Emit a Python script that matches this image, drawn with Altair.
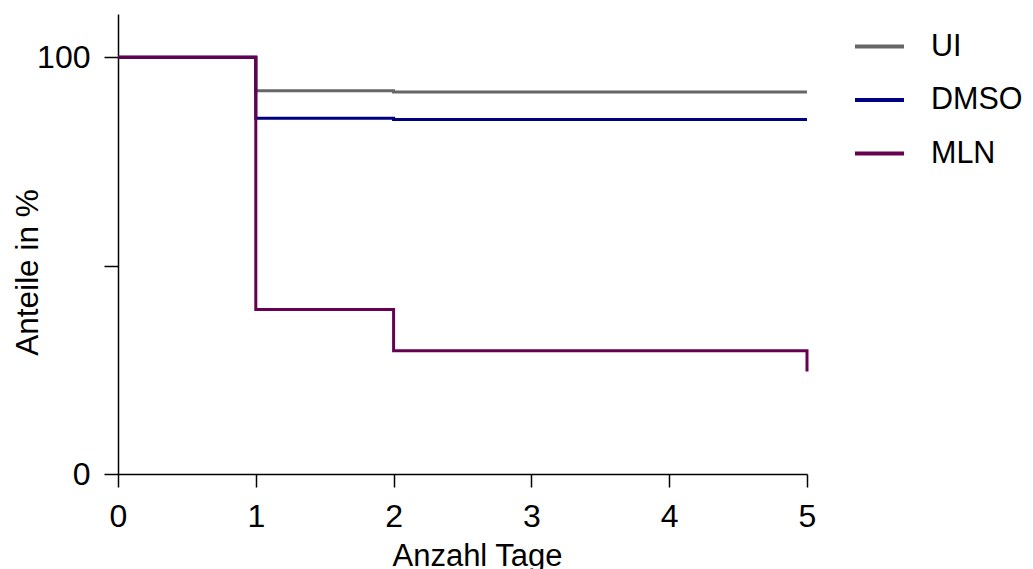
import altair as alt
import pandas as pd

groups = ["UI", "DMSO", "MLN"]
colors = ["#666666", "#000080", "#660050"]

ui_days = [0, 1, 2, 5]
ui_vals = [100, 92.0, 91.7, 91.7]
dmso_days = [0, 1, 2, 5]
dmso_vals = [100, 85.4, 85.1, 85.1]
mln_days = [0, 1, 2, 5, 5]
mln_vals = [100, 39.5, 29.6, 29.6, 24.6]

x_ticks = [0, 1, 2, 3, 4, 5]
y_ticks = [0, 50, 100]

rows = []
for g, days, vals in [("UI", ui_days, ui_vals), ("DMSO", dmso_days, dmso_vals), ("MLN", mln_days, mln_vals)]:
    for i, (d, v) in enumerate(zip(days, vals)):
        rows.append({"Gruppe": g, "Tag": d, "Wert": v, "order": i})
df = pd.DataFrame(rows)

FONT = "Liberation Sans"

chart = alt.Chart(df).mark_line(interpolate="step-after", strokeWidth=3, strokeCap="butt").encode(
    x=alt.X("Tag:Q",
            scale=alt.Scale(domain=[0, 5], nice=False, zero=False),
            axis=alt.Axis(values=x_ticks, title="Anzahl Tage", grid=False,
                          tickSize=13, tickColor="black", domainColor="black",
                          tickWidth=1.5, domainWidth=1.5, labelFlush=False,
                          labelFontSize=32, labelFont=FONT, labelColor="black",
                          labelPadding=14,
                          titleFontSize=31, titleFont=FONT, titleFontWeight="normal",
                          titleColor="black", titleX=359, titleY=91,
                          titleBaseline="alphabetic", titleAlign="center")),
    y=alt.Y("Wert:Q",
            scale=alt.Scale(domain=[0, 110.4], nice=False),
            axis=alt.Axis(values=y_ticks, title="Anteile in %", grid=False,
                          labelExpr="datum.value == 50 ? '' : datum.label",
                          tickSize=14, tickColor="black", domainColor="black",
                          tickWidth=1.5, domainWidth=1.5, labelFlush=False,
                          labelFontSize=32, labelFont=FONT, labelColor="black",
                          labelPadding=14,
                          titleFontSize=31.5, titleFont=FONT, titleFontWeight="normal",
                          titleColor="black", titleX=-81, titleY=258,
                          titleBaseline="alphabetic", titleAlign="center")),
    color=alt.Color("Gruppe:N",
                    scale=alt.Scale(domain=groups, range=colors),
                    sort=groups,
                    legend=alt.Legend(title=None, orient="none", legendX=735, legendY=6,
                                      symbolType="stroke", symbolSize=2401,
                                      symbolStrokeWidth=4, labelOffset=25,
                                      labelFontSize=30.5, labelFont=FONT, labelColor="black",
                                      rowPadding=11.5, padding=0)),
    order=alt.Order("order:Q"),
    detail="Gruppe:N",
).properties(
    width=689,
    height=460,
    padding={"left": 110, "top": 6, "right": 218, "bottom": 95},
    autosize=alt.AutoSizeParams(type="none"),
).configure_view(stroke=None)

chart.save("out.html", embed_options={"renderer": "svg", "actions": False})
